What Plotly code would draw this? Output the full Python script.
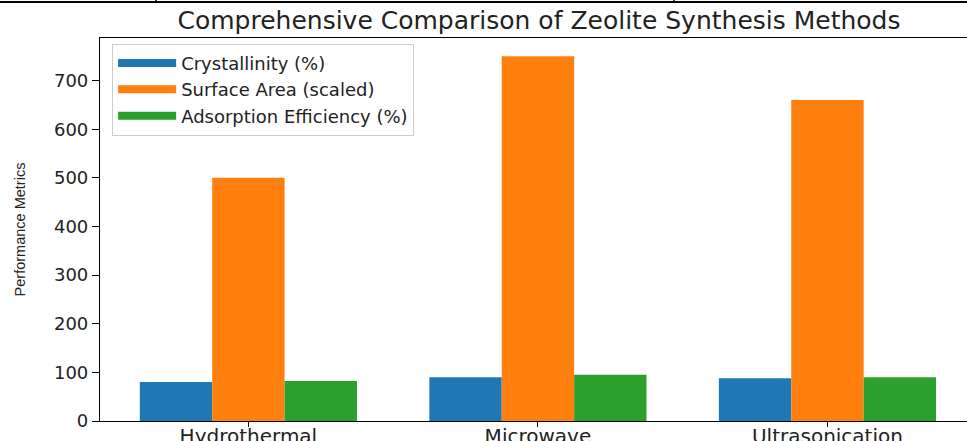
import plotly.graph_objects as go

methods = ["Hydrothermal", "Microwave", "Ultrasonication"]
crystallinity = [80, 90, 88]
surface_area_scaled = [500, 750, 660]
adsorption_eff = [82, 95, 90]
series_names = ["Crystallinity (%)", "Surface Area (scaled)", "Adsorption Efficiency (%)"]
colors = ["#1f77b4", "#ff7f0e", "#2ca02c"]
y_ticks = [0, 100, 200, 300, 400, 500, 600, 700]

fig = go.Figure()
for name, vals, c in zip(series_names, [crystallinity, surface_area_scaled, adsorption_eff], colors):
    fig.add_trace(go.Bar(x=methods, y=vals, name=name, marker=dict(color=c, line=dict(width=0)),
                         showlegend=False))
# legend proxies (wide handles like matplotlib)
for name, c in zip(series_names, colors):
    fig.add_trace(go.Scatter(x=[methods[0]], y=[None], mode="lines", name=name,
                             line=dict(color=c, width=8), showlegend=True))

font = "DejaVu Sans"
fig.update_layout(
    width=967, height=441,
    margin=dict(l=100, r=0, t=38, b=20),
    paper_bgcolor="white", plot_bgcolor="white",
    barmode="group", bargap=0.25, bargroupgap=0,
    title=dict(text="Comprehensive Comparison of Zeolite Synthesis Methods",
               x=(100 + 978) / 2 / 967, xanchor="center", y=0.955, yanchor="middle",
               font=dict(family=font, size=25, color="#222")),
    legend=dict(x=0.014, y=0.985, xanchor="left", yanchor="top",
                bgcolor="rgba(255,255,255,0.8)", bordercolor="#cccccc", borderwidth=1,
                font=dict(family=font, size=18, color="#222"), itemwidth=58,
                tracegroupgap=0),
    showlegend=True,
)
fig.update_xaxes(range=[-0.5125, 2.482], showline=True, linecolor="black", linewidth=1.2,
                 mirror=True, ticks="outside", ticklen=5, tickcolor="black",
                 ticklabelstandoff=-8,
                 tickfont=dict(family=font, size=20, color="#222"), showgrid=False,
                 automargin=False, fixedrange=True)
fig.update_yaxes(range=[0, 787.5], tickvals=y_ticks, showline=True, linecolor="black",
                 linewidth=1.2, ticks="outside", ticklen=7, tickcolor="black",
                 tickfont=dict(family=font, size=18, color="#222"), showgrid=False,
                 zeroline=False, automargin=False,
                 title=dict(text="Performance Metrics", standoff=24,
                            font=dict(family="Liberation Sans", size=14.5, color="#222")))

# fragment of the neighbouring subplot's axis at the very top edge
top_y = (421 - 2) / 383
fig.add_shape(type="line", xref="paper", yref="paper", x0=-0.12, x1=1.0, y0=top_y, y1=top_y,
              line=dict(color="black", width=2))
for px in [156, 674]:
    xp = (px - 100) / 867
    fig.add_shape(type="line", xref="paper", yref="paper", x0=xp, x1=xp, y0=top_y, y1=1.2,
                  line=dict(color="black", width=1.5))

fig.write_html("out.html", config={"displayModeBar": False},
               post_script="document.body.style.margin='0';")
